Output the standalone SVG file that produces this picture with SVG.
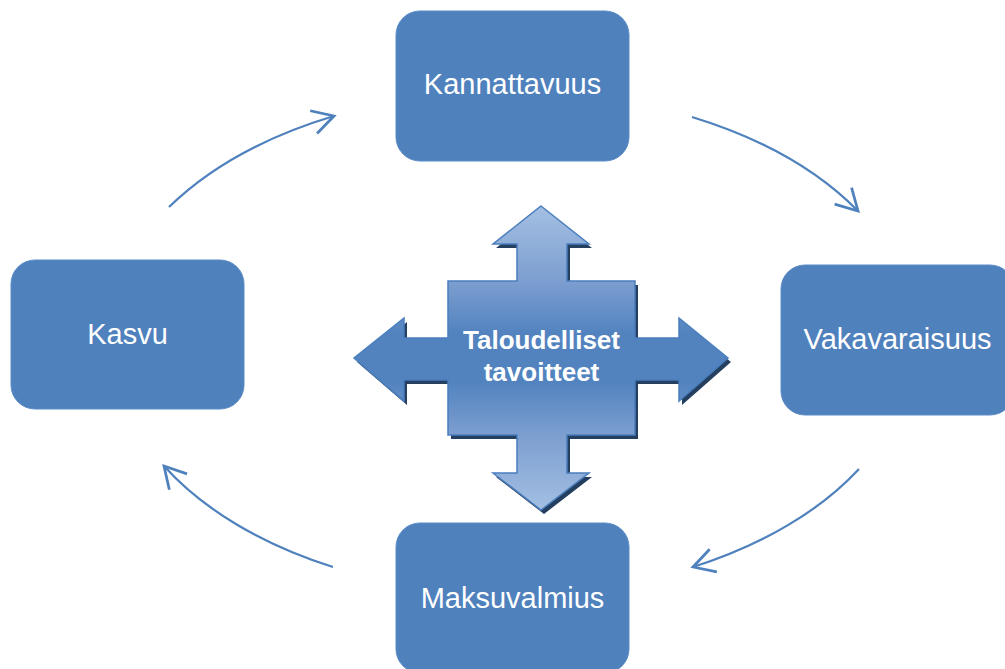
<svg xmlns="http://www.w3.org/2000/svg" width="1005" height="669" viewBox="0 0 1005 669">
<style>
.box{fill:#4f81bd;stroke:#5b8bc6;stroke-width:1}
.lbl{font-family:"Liberation Sans",Arial,sans-serif;font-size:29px;fill:#ffffff;text-anchor:middle}
.ctr{font-family:"Liberation Sans",Arial,sans-serif;font-size:26px;font-weight:bold;fill:#ffffff;text-anchor:middle}
.arc{fill:none;stroke:#4f81bd;stroke-width:2.2;marker-end:url(#chev)}
</style>
<defs>
<marker id="chev" markerUnits="userSpaceOnUse" markerWidth="30" markerHeight="30" refX="0" refY="0" viewBox="-20 -12 22 24" orient="auto" overflow="visible">
<path d="M-17,-9.5 L0,0 L-17,9.5" fill="none" stroke="#4f81bd" stroke-width="2.2"/>
</marker>
<linearGradient id="cg" gradientUnits="userSpaceOnUse" x1="0" y1="206" x2="0" y2="510">
<stop offset="0" stop-color="#a3bfe2"/>
<stop offset="0.25" stop-color="#7c9ed0"/>
<stop offset="0.42" stop-color="#5283bf"/>
<stop offset="0.58" stop-color="#5283bf"/>
<stop offset="0.75" stop-color="#7c9ed0"/>
<stop offset="1" stop-color="#a3bfe2"/>
</linearGradient>
<polygon id="cross" points="541,206 589,244 567,244 567,281 635,281 635,338 679,338 679,318 728,358 679,401 679,380 635,380 635,435 567,435 567,473 589,473 541,510 493,473 517,473 517,435 448,435 448,380 404,380 404,401 354,358 404,318 404,338 448,338 448,281 517,281 517,244 493,244"/>
</defs>

<g id="connectors">
<path class="arc" d="M169,207 A405,249 0 0 1 334,116"/>
<path class="arc" d="M692,117 A405,249 0 0 1 858,211"/>
<path class="arc" d="M859,469 A405,249 0 0 1 693,567"/>
<path class="arc" d="M333,567 A405,249 0 0 1 164,466"/>
</g>

<g id="kannattavuus">
<rect class="box" x="396" y="11" width="233" height="150" rx="24"/>
<text class="lbl" x="512.5" y="94">Kannattavuus</text>
</g>
<g id="vakavaraisuus">
<rect class="box" x="781" y="265" width="233" height="150" rx="24"/>
<text class="lbl" x="897.5" y="349">Vakavaraisuus</text>
</g>
<g id="maksuvalmius">
<rect class="box" x="396" y="523" width="233" height="150" rx="24"/>
<text class="lbl" x="512.5" y="608">Maksuvalmius</text>
</g>
<g id="kasvu">
<rect class="box" x="11" y="260" width="233" height="149" rx="24"/>
<text class="lbl" x="127.5" y="344">Kasvu</text>
</g>

<g id="taloudelliset-tavoitteet">
<use href="#cross" transform="translate(3,4)" fill="#243f60"/>
<use href="#cross" fill="url(#cg)" stroke="#4a7ebd" stroke-width="1.5"/>
<text class="ctr" x="541.5" y="349">Taloudelliset</text>
<text class="ctr" x="541.5" y="381">tavoitteet</text>
</g>
</svg>
